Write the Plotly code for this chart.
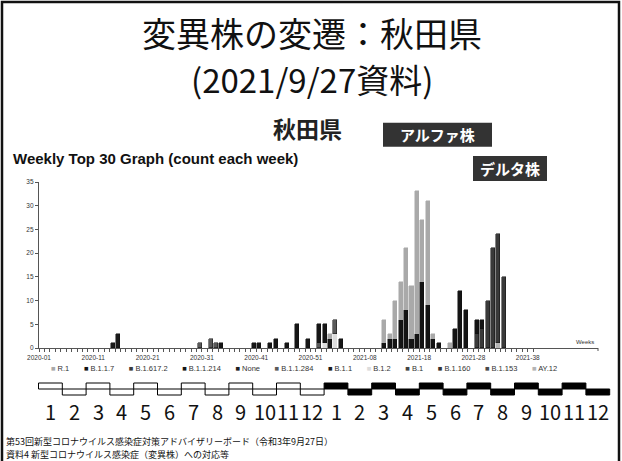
import plotly.graph_objects as go

# ---------------- data ----------------
# Lineages in legend order, with their grey-scale colours
lineages = ["R.1", "B.1.1.7", "B.1.617.2", "B.1.1.214", "None", "B.1.1.284",
            "B.1.1", "B.1.2", "B.1", "B.1.160", "B.1.153", "AY.12"]
lineage_colors = ["#a9a9a9", "#141414", "#3a3a3a", "#161616", "#202020", "#5a5a5a",
                  "#1a1a1a", "#dcdcdc", "#444444", "#333333", "#4a4a4a", "#b4b4b4"]

# Weekly counts per lineage (ISO week labels)
r1_weeks = ["2021-02", "2021-12", "2021-13", "2021-14", "2021-15", "2021-16",
            "2021-17", "2021-18", "2021-19", "2021-20", "2021-21", "2021-24"]
r1_counts = [1, 5, 1, 8, 8, 13, 11, 30, 13, 22, 1, 1]

b117_weeks = ["2021-12", "2021-13", "2021-14", "2021-15", "2021-16", "2021-17",
              "2021-18", "2021-19", "2021-20", "2021-21", "2021-22",
              "2021-25", "2021-26", "2021-27", "2021-29", "2021-30"]
b117_counts = [1, 2, 2, 6, 8, 2, 3, 14, 9, 2, 1, 4, 12, 8, 3, 2]

b16172_weeks = ["2021-29", "2021-30", "2021-31", "2021-32", "2021-33", "2021-34"]
b16172_counts = [3, 4, 10, 21, 23, 15]

b11214_weeks = ["2020-35", "2020-41", "2020-42", "2020-44", "2020-45", "2020-47",
                "2020-49", "2020-51", "2020-53", "2021-01", "2021-02", "2021-04"]
b11214_counts = [1, 1, 1, 1, 2, 1, 5, 2, 4, 4, 2, 2]

none_weeks = []
none_counts = []

b11284_weeks = ["2020-31", "2020-33", "2020-34", "2020-53", "2021-03"]
b11284_counts = [1, 2, 1, 1, 3]

b11_weeks = ["2020-15", "2020-16"]
b11_counts = [1, 3]

b12_weeks = ["2021-01", "2021-03"]
b12_counts = [1, 3]

b1_weeks, b1_counts = [], []
b1160_weeks, b1160_counts = [], []
b1153_weeks, b1153_counts = [], []

ay12_weeks = ["2021-33"]
ay12_counts = [1]

series_weeks = [r1_weeks, b117_weeks, b16172_weeks, b11214_weeks, none_weeks,
                b11284_weeks, b11_weeks, b12_weeks, b1_weeks, b1160_weeks,
                b1153_weeks, ay12_weeks]
series_counts = [r1_counts, b117_counts, b16172_counts, b11214_counts, none_counts,
                 b11284_counts, b11_counts, b12_counts, b1_counts, b1160_counts,
                 b1153_counts, ay12_counts]

month_labels = [str(m) for m in range(1, 13)] * 2
y_tick_values = [0, 5, 10, 15, 20, 25, 30, 35]

title_main = "変異株の変遷：秋田県"
title_sub = "(2021/9/27資料)"
pref_name = "秋田県"
graph_title = "Weekly Top 30 Graph (count each week)"
alpha_label = "アルファ株"
delta_label = "デルタ株"
footer_1 = "第53回新型コロナウイルス感染症対策アドバイザリーボード（令和3年9月27日）"
footer_2 = "資料4 新型コロナウイルス感染症（変異株）への対応等"


def week_index(label):
    """0 = 2020-01; 2020 has 53 ISO weeks."""
    year, week = label.split("-")
    return (int(week) - 1) + (53 if year == "2021" else 0)


def index_label(i):
    return f"2020-{i + 1:02d}" if i < 53 else f"2021-{i - 52:02d}"


# ---------------- geometry helpers ----------------
FW, FH = 622, 461
L, R, T, B = 39, 24, 182, 113
PW, PH = FW - L - R, FH - T - B
WEEK_PX = 5.43


def px(x):
    return (x - L) / PW


def py(y):
    return (FH - B - y) / PH


CJK = "Noto Sans CJK JP"
SANS = "Liberation Sans, Arial, sans-serif"

fig = go.Figure()

# stacked bars: last legend entry at the bottom of each stack
for name, color, wk, cnt in reversed(list(zip(lineages, lineage_colors,
                                               series_weeks, series_counts))):
    dark = color not in ("#a9a9a9", "#dcdcdc", "#b4b4b4")
    fig.add_trace(go.Bar(
        x=[week_index(w) for w in wk], y=cnt, name=name,
        marker=dict(color=color,
                    line=dict(color="#0d0d0d" if dark else color, width=0.5)),
        width=0.74, offset=-0.77, showlegend=False,
    ))

tick_idx = list(range(0, 92))
fig.update_layout(
    width=FW, height=FH,
    margin=dict(l=L, r=R, t=T, b=B, pad=0),
    paper_bgcolor="white", plot_bgcolor="white",
    barmode="stack", bargap=0,
    showlegend=False,
    xaxis=dict(range=[0, PW / WEEK_PX], showgrid=False, zeroline=False,
               showline=True, linecolor="#555", linewidth=1,
               tickmode="array", tickvals=tick_idx,
               ticktext=[index_label(i) if i % 10 == 0 else "" for i in tick_idx],
               ticks="outside", ticklen=3, tickwidth=1, tickcolor="#555",
               tickfont=dict(family=SANS, size=6.5, color="#333")),
    yaxis=dict(range=[0, 35], showgrid=False, zeroline=False,
               showline=True, linecolor="#555", linewidth=1.2,
               tickmode="array", tickvals=y_tick_values,
               ticks="outside", ticklen=3, tickwidth=1, tickcolor="#555",
               tickfont=dict(family=SANS, size=6.5, color="#333")),
)

shapes = []
annotations = []

# slide frame
shapes.append(dict(type="rect", xref="paper", yref="paper",
                   x0=px(2), x1=px(619), y0=py(2), y1=py(475),
                   line=dict(color="#111", width=2.5), fillcolor="rgba(0,0,0,0)"))

# small end tick of the week axis
shapes.append(dict(type="line", xref="paper", yref="paper",
                   x0=px(598), x1=px(598), y0=py(348), y1=py(351),
                   line=dict(color="#555", width=1)))

# label boxes
for text, (x0, x1, y0, y1) in [(alpha_label, (383, 492, 122.7, 146.7)),
                               (delta_label, (473, 547, 156, 181))]:
    shapes.append(dict(type="rect", xref="paper", yref="paper",
                       x0=px(x0), x1=px(x1), y0=py(y1), y1=py(y0),
                       line=dict(width=0), fillcolor="#333333"))
    annotations.append(dict(xref="paper", yref="paper", x=px((x0 + x1) / 2),
                            y=py((y0 + y1) / 2), text=f"<b>{text}</b>",
                            showarrow=False, xanchor="center", yanchor="middle",
                            font=dict(family=CJK, size=15, color="white")))

# month strip
MONTH_X0, MONTH_W = 38.5, 23.8
for i, m in enumerate(month_labels):
    x0 = MONTH_X0 + MONTH_W * i
    up = int(m) % 2 == 1
    ya, yb = (383, 389) if up else (389, 395)
    fill = "white" if i < 12 else "#000"
    shapes.append(dict(type="rect", xref="paper", yref="paper",
                       x0=px(x0), x1=px(x0 + MONTH_W), y0=py(yb), y1=py(ya),
                       line=dict(color="#000", width=1), fillcolor=fill))
    annotations.append(dict(xref="paper", yref="paper", x=px(x0 + MONTH_W / 2),
                            y=py(411), text=m, showarrow=False,
                            xanchor="center", yanchor="middle",
                            font=dict(family=CJK, size=20, color="#111")))

# titles
annotations += [
    dict(xref="paper", yref="paper", x=px(312), y=py(32), text=title_main,
         showarrow=False, xanchor="center", yanchor="middle",
         font=dict(family=CJK, size=34, color="#111")),
    dict(xref="paper", yref="paper", x=px(312), y=py(79), text=title_sub,
         showarrow=False, xanchor="center", yanchor="middle",
         font=dict(family=CJK, size=33, color="#111")),
    dict(xref="paper", yref="paper", x=px(307), y=py(128), text=f"<b>{pref_name}</b>",
         showarrow=False, xanchor="center", yanchor="middle",
         font=dict(family=CJK, size=23, color="#222")),
    dict(xref="paper", yref="paper", x=px(11), y=py(158), text=f"<b>{graph_title}</b>",
         showarrow=False, xanchor="left", yanchor="middle",
         font=dict(family=SANS, size=15, color="#111")),
    dict(xref="paper", yref="paper", x=px(585), y=py(342), text="Weeks",
         showarrow=False, xanchor="center", yanchor="middle",
         font=dict(family=SANS, size=6, color="#333")),
    dict(xref="paper", yref="paper", x=px(4), y=py(441), text=footer_1,
         showarrow=False, xanchor="left", yanchor="middle",
         font=dict(family=CJK, size=9, color="#111")),
    dict(xref="paper", yref="paper", x=px(4), y=py(454), text=footer_2,
         showarrow=False, xanchor="left", yanchor="middle",
         font=dict(family=CJK, size=9, color="#111")),
]

# legend row built from the lineage list
gap = "&nbsp;" * 7
legend_text = gap.join(f"<span style='color:{c}'>■</span> {n}"
                       for n, c in zip(lineages, lineage_colors))
annotations.append(dict(xref="paper", yref="paper", x=px(304), y=py(368),
                        text=legend_text, showarrow=False,
                        xanchor="center", yanchor="middle",
                        font=dict(family=SANS, size=7.5, color="#333")))

fig.update_layout(shapes=shapes, annotations=annotations)
fig.write_html("out.html")
